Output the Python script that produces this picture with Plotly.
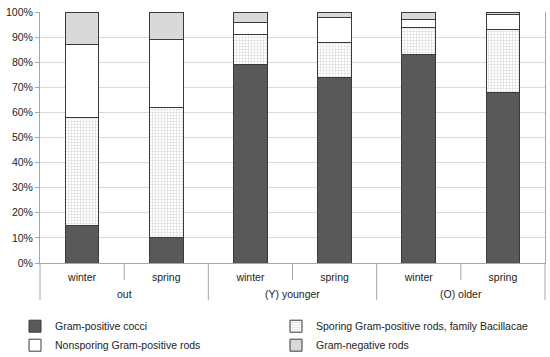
import plotly.graph_objects as go

groups = ["out", "out", "(Y) younger", "(Y) younger", "(O) older", "(O) older"]
seasons = ["winter", "spring", "winter", "spring", "winter", "spring"]

cocci = [15, 10, 79, 74, 83, 68]
sporing = [43, 52, 12, 14, 11, 25]
nonsporing = [29, 27, 5, 10, 3, 6]
gram_negative = [13, 11, 4, 2, 3, 1]

y_ticks = [0, 10, 20, 30, 40, 50, 60, 70, 80, 90, 100]
y_tick_labels = ["0%", "10%", "20%", "30%", "40%", "50%", "60%", "70%", "80%", "90%", "100%"]

FONT = "Liberation Sans, Arial, sans-serif"
AXIS_GRAY = "#a6a6a6"
n = len(seasons)
pos = list(range(n))
line = dict(color="#3a3a3a", width=1)

fig = go.Figure()
fig.add_trace(go.Bar(x=pos, y=cocci, name="Gram-positive cocci",
                     marker=dict(color="#595959", line=line)))
fig.add_trace(go.Bar(x=pos, y=sporing, name="Sporing Gram-positive rods, family Bacillacae",
                     marker=dict(color="white", line=line,
                                 pattern=dict(shape="+", fgcolor="#9a9a9a", bgcolor="white",
                                              size=3, solidity=0.25))))
fig.add_trace(go.Bar(x=pos, y=nonsporing, name="Nonsporing Gram-positive rods",
                     marker=dict(color="white", line=line)))
fig.add_trace(go.Bar(x=pos, y=gram_negative, name="Gram-negative rods",
                     marker=dict(color="#d9d9d9", line=line)))

# category separators below the axis (short) and group separators (long)
PLOT_H = 251
for i in range(n + 1):
    is_group_edge = i == 0 or i == n or groups[i] != groups[i - 1]
    depth = 37 if is_group_edge else 17
    fig.add_shape(type="line", xref="paper", yref="paper",
                  x0=i / n, x1=i / n, y0=0, y1=-depth / PLOT_H,
                  line=dict(color=AXIS_GRAY, width=1))

# group labels
seen = []
for g in groups:
    if g not in seen:
        seen.append(g)
for g in seen:
    idx = [i for i, gg in enumerate(groups) if gg == g]
    fig.add_annotation(x=sum(idx) / len(idx), xref="x", y=0, yref="paper",
                       yshift=-31, yanchor="middle", text=g, showarrow=False,
                       font=dict(size=10.5))

fig.update_layout(
    width=550, height=357,
    barmode="stack", bargap=0.6,
    margin=dict(l=40, r=5, t=12, b=94, autoexpand=False),
    paper_bgcolor="white", plot_bgcolor="white",
    font=dict(family=FONT, size=10.5, color="#222"),
    legend=dict(orientation="h", x=-25 / 505, xanchor="left", y=-0.194, yanchor="top",
                entrywidth=216, entrywidthmode="pixels", traceorder="normal",
                font=dict(size=10.5), itemwidth=30),
    showlegend=True,
)
fig.update_yaxes(range=[0, 100], tickvals=y_ticks, ticktext=y_tick_labels,
                 showgrid=True, gridcolor="#d9d9d9", gridwidth=1,
                 showline=True, linecolor=AXIS_GRAY, linewidth=1, mirror=True,
                 ticks="outside", ticklen=4, tickcolor=AXIS_GRAY,
                 tickfont=dict(size=10.5), zeroline=False, automargin=False)
fig.update_xaxes(range=[-0.5, n - 0.5], tickvals=pos, ticktext=seasons,
                 showline=True, linecolor=AXIS_GRAY, linewidth=1,
                 ticks="", showgrid=False, zeroline=False,
                 ticklabelstandoff=4, automargin=False,
                 tickfont=dict(size=10.5))

fig.write_html("out.html",
               config={"displayModeBar": False},
               post_script="document.body.style.margin='0';document.body.style.padding='0';")
